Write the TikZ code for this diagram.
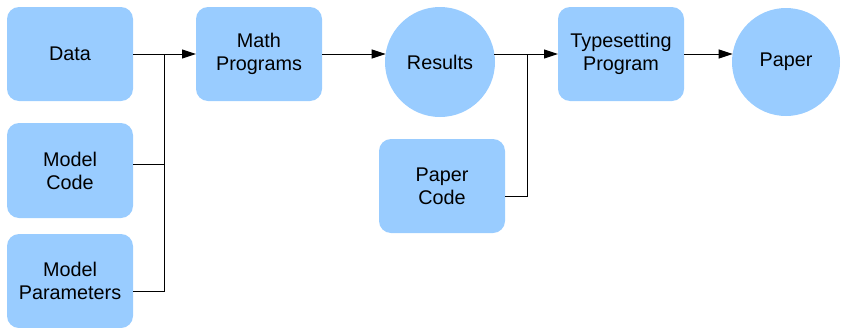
\documentclass[tikz,border=0pt]{standalone}
\usepackage{fontspec}
\setmainfont{Liberation Sans}
\usetikzlibrary{arrows.meta}
\definecolor{boxblue}{HTML}{99CCFF}
\tikzset{
  box/.style={rectangle, rounded corners=12pt, fill=boxblue, draw=none,
    minimum width=126pt, minimum height=94pt, inner sep=0pt, outer sep=0pt,
    align=center, font=\fontsize{19.8pt}{23pt}\selectfont},
  disc/.style={circle, fill=boxblue, draw=none, inner sep=0pt, outer sep=0pt,
    align=center, font=\fontsize{19.8pt}{23pt}\selectfont},
  conn/.style={draw=black, line width=1pt},
  arr/.style={conn, -{Triangle[length=14pt,width=9pt]}}
}
\begin{document}
\begin{tikzpicture}[x=1pt,y=-1pt]
\useasboundingbox (0,0) rectangle (841,327);
\node[box] (data) at (70,54) {Data};
\node[box, minimum height=95pt] (mc) at (70,170.5) {Model\\Code};
\node[box] (mp) at (70,281) {Model\\Parameters};
\node[box] (math) at (259,54) {Math\\Programs};
\node[disc, minimum size=110pt] (res) at (440,62) {Results};
\node[box] (pc) at (442,186) {Paper\\Code};
\node[box] (ts) at (621,54) {Typesetting\\Program};
\node[disc, minimum size=108pt] (pap) at (786,62) {Paper};
\coordinate (j1) at (164,54);
\coordinate (j2) at (527,54);
\draw[arr] (data.east) -- (math.west);
\draw[conn] ([yshift=6.5pt]mc.east) -| (j1);
\draw[conn] ([yshift=-10pt]mp.east) -| (j1);
\draw[arr] (math.east) -- (res.171.6 |- math.east);
\draw[arr] (res.8.4 |- ts.west) -- (ts.west);
\draw[conn] ([yshift=-10pt]pc.east) -| (j2);
\draw[arr] (ts.east) -- (pap.171.5 |- ts.east);
\end{tikzpicture}
\end{document}
